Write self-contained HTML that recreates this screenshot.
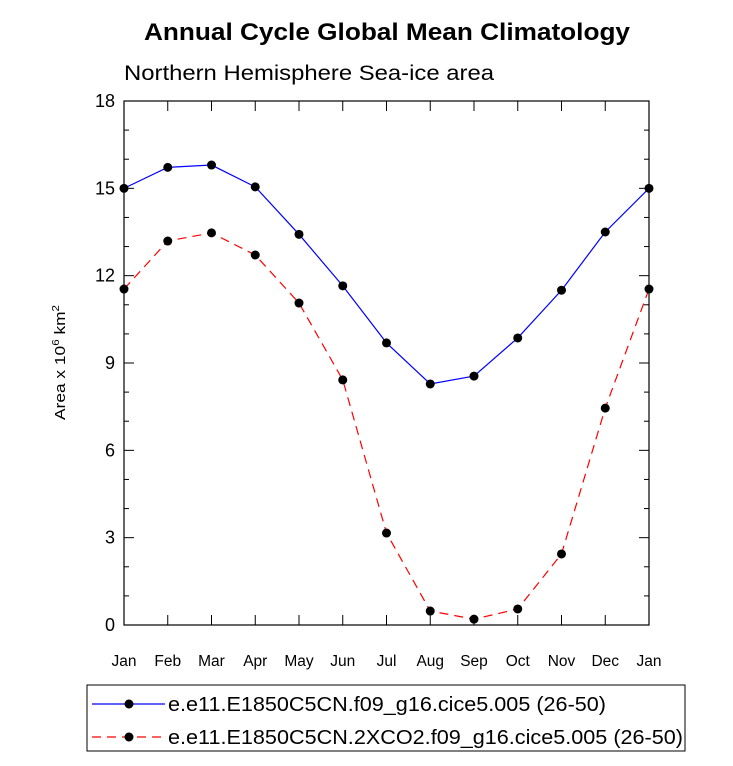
<!DOCTYPE html>
<html><head><meta charset="utf-8"><style>
body{margin:0;background:#fff;}
svg{font-family:"Liberation Sans",Arial,sans-serif;}
</style></head><body>
<svg id="chart" width="733" height="761">
<text x="144" y="40" textLength="486" lengthAdjust="spacingAndGlyphs" font-size="24" font-weight="bold">Annual Cycle Global Mean Climatology</text>
<text x="124" y="80" textLength="370" lengthAdjust="spacingAndGlyphs" font-size="21">Northern Hemisphere Sea-ice area</text>
<text transform="translate(65,420) rotate(-90)" font-size="15" textLength="115" lengthAdjust="spacingAndGlyphs">Area x 10<tspan dy="-6" font-size="10">6</tspan><tspan dy="6"> km</tspan><tspan dy="-6" font-size="10">2</tspan></text>
<g id="axes"></g>
<g id="series"></g>
<rect x="87" y="685" width="598" height="66" fill="none" stroke="#000" stroke-width="1"/>
<g>
<line x1="92" y1="704" x2="165" y2="704" stroke="#0000ff" stroke-width="1.2"/>
<circle cx="129" cy="704" r="4.5" fill="#000"/>
<text x="168" y="711" font-size="20" textLength="438" lengthAdjust="spacingAndGlyphs">e.e11.E1850C5CN.f09_g16.cice5.005 (26-50)</text>
</g>
<g>
<line x1="92" y1="737" x2="165" y2="737" stroke="#ff0000" stroke-width="1.2" stroke-dasharray="9,6"/>
<circle cx="129" cy="737" r="4.5" fill="#000"/>
<text x="168" y="744" font-size="20" textLength="515" lengthAdjust="spacingAndGlyphs">e.e11.E1850C5CN.2XCO2.f09_g16.cice5.005 (26-50)</text>
</g>
</svg>
<script>
const months = ["Jan","Feb","Mar","Apr","May","Jun","Jul","Aug","Sep","Oct","Nov","Dec","Jan"];
const controlArea = [15.0,15.72,15.8,15.05,13.42,11.65,9.69,8.28,8.55,9.86,11.5,13.5,15.0];
const co2Area = [11.54,13.19,13.47,12.71,11.06,8.42,3.16,0.48,0.2,0.55,2.44,7.45,11.54];
const yTicks = [0,3,6,9,12,15,18];
const NS="http://www.w3.org/2000/svg";
const L=124,R=649,T=101,B=625,yMax=18;
const xs=i=>L+(R-L)*i/(months.length-1);
const ys=v=>B-(B-T)*v/yMax;
function mk(tag,attrs,parent){const e=document.createElementNS(NS,tag);for(const k in attrs)e.setAttribute(k,attrs[k]);parent.appendChild(e);return e;}
const ax=document.getElementById('axes');
const frame=mk('rect',{x:L,y:T,width:R-L,height:B-T,fill:'none',stroke:'#000','stroke-width':1.2},ax);


for(let v=0;v<=yMax;v++){
  const major=yTicks.includes(v);const len=major?10:5;const y=ys(v);
  mk('line',{x1:L,y1:y,x2:L+len,y2:y,stroke:'#000'},ax);
  mk('line',{x1:R,y1:y,x2:R-len,y2:y,stroke:'#000'},ax);
}
yTicks.forEach(v=>{
  const t=mk('text',{x:L-9,y:ys(v)+6,'text-anchor':'end','font-size':18},ax);t.textContent=v;
  
  
});
months.forEach((m,i)=>{
  const x=xs(i);
  mk('line',{x1:x,y1:B,x2:x,y2:B-10,stroke:'#000'},ax);
  mk('line',{x1:x,y1:T,x2:x,y2:T+10,stroke:'#000'},ax);
  const t=mk('text',{x:x,y:B+41,'text-anchor':'middle','font-size':15.5},ax);t.textContent=m;
  
  
});
const sg=document.getElementById('series');
function series(vals,color,dash,name){
  const g=mk('g',{},sg);
  
  
  const pts=vals.map((v,i)=>xs(i)+','+ys(v)).join(' ');
  const a={points:pts,fill:'none',stroke:color,'stroke-width':1.2};
  if(dash)a['stroke-dasharray']=dash;
  mk('polyline',a,g);
  vals.forEach((v,i)=>{const c=mk('circle',{cx:xs(i),cy:ys(v),r:4.5,fill:'#000'},g);
    
    });
}
series(controlArea,'#0000ff',null,'series-control');
series(co2Area,'#ff0000','9,6','series-2xco2');
</script>
</body></html>
